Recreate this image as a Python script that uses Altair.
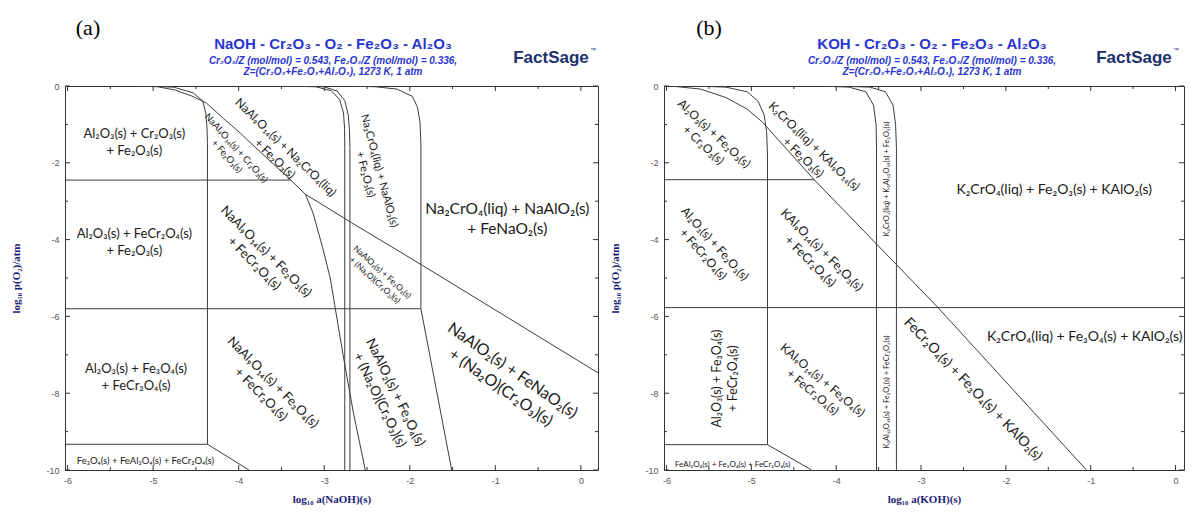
import altair as alt
import pandas as pd

# ---------------- data : panel (a) NaOH ----------------
A_V1_x = [-5.25, -5.0, -4.76, -4.53, -4.42, -4.385, -4.37, -4.365, -4.365, -3.88]
A_V1_y = [0, -0.01, -0.03, -0.18, -0.39, -0.70, -1.1, -1.5, -9.33, -10]
A_H1_x = [-6.03, -3.39]
A_H1_y = [-2.45, -2.45]
A_H2_x = [-6.03, -1.87]
A_H2_y = [-5.8, -5.8]
A_H3_x = [-6.03, -4.365]
A_H3_y = [-9.33, -9.33]
A_C2_x = [-5.2, -4.95, -4.75, -4.55, -4.38, -4.18, -3.98, -3.80, -3.60, -3.39, -3.22, -2.68, -1.86, 0.2]
A_C2_y = [0, -0.02, -0.1, -0.26, -0.44, -0.84, -1.23, -1.61, -2.02, -2.45, -2.82, -3.56, -4.66, -7.47]
A_C3_x = [-3.22, -3.13, -3.02, -2.93, -2.87, -2.78, -2.66, -2.52]
A_C3_y = [-2.82, -3.31, -4.2, -5.0, -5.8, -7.0, -8.5, -10]
A_V2_x = [-3.45, -3.1, -2.92, -2.82, -2.775, -2.762, -2.76, -2.76]
A_V2_y = [0, -0.02, -0.12, -0.35, -0.7, -1.1, -1.6, -10]
A_V3_x = [-3.3, -3.0, -2.85, -2.76, -2.72, -2.705, -2.70, -2.70]
A_V3_y = [0, -0.02, -0.13, -0.38, -0.75, -1.15, -1.6, -10]
A_V4_x = [-2.7, -2.4, -2.15, -1.97, -1.91, -1.88, -1.87, -1.87, -1.51]
A_V4_y = [0, -0.02, -0.08, -0.27, -0.55, -0.96, -1.5, -5.8, -10]

A_lab_text = [
    "Al₂O₃(s) + Cr₂O₃(s)\n+ Fe₂O₃(s)",
    "Al₂O₃(s) + FeCr₂O₄(s)\n+ Fe₂O₃(s)",
    "Al₂O₃(s) + Fe₃O₄(s)\n+ FeCr₂O₄(s)",
    "Fe₃O₄(s) + FeAl₂O₄(s) + FeCr₂O₄(s)",
    "NaAl₉O₁₄(s) + Fe₂O₃(s)\n+ FeCr₂O₄(s)",
    "NaAl₉O₁₄(s) + Fe₃O₄(s)\n+ FeCr₂O₄(s)",
    "NaAl₉O₁₄(s) + Na₂CrO₄(liq)\n+ Fe₂O₃(s)",
    "NaAl₉O₁₄(s) + Cr₂O₃(s)\n+ Fe₂O₃(s)",
    "Na₂CrO₄(liq) + NaAlO₂(s)\n+ Fe₂O₃(s)",
    "Na₂CrO₄(liq) + NaAlO₂(s)\n+ FeNaO₂(s)",
    "NaAlO₂(s) + Fe₂O₃(s)\n+ (Na₂O)(Cr₂O₃)(s)",
    "NaAlO₂(s) + Fe₃O₄(s)\n+ (Na₂O)(Cr₂O₃)(s)",
    "NaAlO₂(s) + FeNaO₂(s)\n+ (Na₂O)(Cr₂O₃)(s)",
]
A_lab_x = [-5.22, -5.22, -5.2, -5.09, -3.68, -3.6, -3.45, -4.03, -2.36, -0.86, -2.32, -2.17, -0.8]
A_lab_y = [-1.25, -3.86, -7.37, -9.77, -4.31, -7.72, -1.6, -1.62, -2.21, -3.2, -4.84, -7.98, -7.41]
A_lab_angle = [0, 0, 0, 0, 45, 45, 44, 48, 75, 0, 42, 64, 35]
A_lab_fs = [13, 13, 13, 9.5, 13, 13, 12, 9.5, 11, 15.5, 8.5, 13.5, 16]

# ---------------- data : panel (b) KOH ----------------
B_V1_x = [-5.65, -5.3, -5.05, -4.92, -4.85, -4.82, -4.81, -4.81, -4.29]
B_V1_y = [0, -0.03, -0.15, -0.4, -0.75, -1.2, -1.8, -9.34, -10]
B_H1_x = [-6.03, -4.26]
B_H1_y = [-2.44, -2.44]
B_H2_x = [-6.03, 0.1]
B_H2_y = [-5.77, -5.77]
B_H3_x = [-6.03, -4.81]
B_H3_y = [-9.34, -9.34]
B_D_x = [-5.95, -5.6, -5.3, -5.05, -4.87, -4.26, -3.29, -2.80, -1.05]
B_D_y = [0, -0.08, -0.3, -0.6, -0.94, -2.44, -4.65, -5.77, -10]
B_V2_x = [-4.2, -3.85, -3.65, -3.56, -3.53, -3.525, -3.525]
B_V2_y = [0, -0.03, -0.15, -0.5, -1.0, -1.6, -10]
B_V3_x = [-4.0, -3.6, -3.42, -3.33, -3.30, -3.29, -3.29]
B_V3_y = [0, -0.03, -0.15, -0.5, -1.0, -1.6, -10]

B_lab_text = [
    "Al₂O₃(s) + Fe₂O₃(s)\n+ Cr₂O₃(s)",
    "K₂CrO₄(liq) + KAl₉O₁₄(s)\n+ Fe₂O₃(s)",
    "K₂CrO₄(liq) + K₂Al₁₂O₁₉(s) + Fe₂O₃(s)",
    "K₂CrO₄(liq) + Fe₂O₃(s) +  KAlO₂(s)",
    "Al₂O₃(s) + Fe₂O₃(s)\n+ FeCr₂O₄(s)",
    "KAl₉O₁₄(s) + Fe₂O₃(s)\n+ FeCr₂O₄(s)",
    "Al₂O₃(s) + Fe₃O₄(s)\n+ FeCr₂O₄(s)",
    "KAl₉O₁₄(s) + Fe₃O₄(s)\n+ FeCr₂O₄(s)",
    "FeAl₂O₄(s) + Fe₃O₄(s) + FeCr₂O₄(s)",
    "K₂Al₁₂O₁₉(s) + Fe₃O₄(s) + FeCr₂O₄(s)",
    "FeCr₂O₄(s) + Fe₃O₄(s) + KAlO₂(s)",
    "K₂CrO₄(liq) + Fe₃O₄(s) + KAlO₂(s)",
]
B_lab_x = [-5.44, -4.26, -3.40, -1.43, -5.43, -4.17, -5.41, -4.16, -5.22, -3.40, -2.39, -1.07]
B_lab_y = [-1.24, -1.57, -2.42, -2.71, -4.11, -4.27, -7.62, -7.66, -9.87, -7.97, -7.9, -6.53]
B_lab_angle = [43, 44, 270, 0, 48, 45, 270, 40, 0, 270, 46, 0]
B_lab_fs = [12, 12, 7.5, 14, 12, 12.5, 12.5, 12, 8, 7.5, 14, 14]

X_MAJOR = [-6, -5, -4, -3, -2, -1, 0]
X_MINOR = [-5.5, -4.5, -3.5, -2.5, -1.5, -0.5]
Y_MAJOR = [0, -2, -4, -6, -8, -10]
Y_MINOR = [-1, -3, -5, -7, -9]
YDOM = [-10, 0]

H = 384
LABEL_FONT = "Lato"
BLUE = "#2a35d0"
NAVY = "#1c1c78"


def lines_df(pairs):
    rows = []
    for name, (xs, ys) in pairs.items():
        for i, (x, y) in enumerate(zip(xs, ys)):
            rows.append({"line": name, "i": i, "x": x, "y": y})
    return pd.DataFrame(rows)


def panel(lines, texts, xs_, ys_, angs, fss, xdom, W, xtitle, title, tag, tag_x, logo_x):
    xs = alt.Scale(domain=xdom, nice=False, zero=False)
    ys = alt.Scale(domain=YDOM, nice=False, zero=False)
    ax_x = alt.Axis(
        values=X_MAJOR, labelExpr="datum.value + ''", ticks=False, tickSize=0,
        domain=False, grid=False, labelFont="Liberation Sans", labelFontSize=9,
        labelColor="#555", labelPadding=6, title=xtitle, titleFont="Liberation Serif",
        titleFontWeight="bold", titleFontSize=11, titleColor=NAVY, titlePadding=8)
    ax_y = alt.Axis(
        values=Y_MAJOR, labelExpr="datum.value + ''", ticks=False, tickSize=0,
        domain=False, grid=False, labelFont="Liberation Sans", labelFontSize=9,
        labelColor="#555", labelPadding=6, title="log₁₀ p(O₂)/atm",
        titleFont="Liberation Serif", titleFontWeight="bold", titleFontSize=11,
        titleColor=NAVY, titlePadding=24)
    layers = []
    layers.append(
        alt.Chart(lines_df(lines)).mark_line(color="#3c3c3c", strokeWidth=1, clip=True).encode(
            x=alt.X("x:Q", scale=xs, axis=ax_x),
            y=alt.Y("y:Q", scale=ys, axis=ax_y),
            detail="line:N", order="i:Q")
    )
    # inward ticks on all four sides
    for vals, ln in ((X_MAJOR, 5), (X_MINOR, 3)):
        d = pd.DataFrame({"v": vals})
        layers.append(alt.Chart(d).mark_rule(color="#333").encode(
            x=alt.X("v:Q", scale=xs, axis=ax_x), y=alt.value(H), y2=alt.value(H - ln)))
        layers.append(alt.Chart(d).mark_rule(color="#333").encode(
            x=alt.X("v:Q", scale=xs, axis=ax_x), y=alt.value(0), y2=alt.value(ln)))
    for vals, ln in ((Y_MAJOR, 5), (Y_MINOR, 3)):
        d = pd.DataFrame({"v": vals})
        layers.append(alt.Chart(d).mark_rule(color="#333").encode(
            y=alt.Y("v:Q", scale=ys, axis=ax_y), x=alt.value(0), x2=alt.value(ln)))
        layers.append(alt.Chart(d).mark_rule(color="#333").encode(
            y=alt.Y("v:Q", scale=ys, axis=ax_y), x=alt.value(W), x2=alt.value(W - ln)))
    # region labels
    for t, x, y, a, fs in zip(texts, xs_, ys_, angs, fss):
        d = pd.DataFrame({"t": [t], "x": [x], "y": [y]})
        layers.append(alt.Chart(d).mark_text(
            font=LABEL_FONT, fontSize=fs, angle=a, lineBreak="\n", lineHeight=fs * 1.3,
            color="#1a1a1a", align="center", baseline="middle").encode(
            x=alt.X("x:Q", scale=xs, axis=ax_x), y=alt.Y("y:Q", scale=ys, axis=ax_y), text="t:N"))
    # titles above the plot
    def txt(s, px, py, **kw):
        return alt.Chart(pd.DataFrame({"t": [s]})).mark_text(**kw).encode(
            text="t:N", x=alt.value(px), y=alt.value(py))
    layers.append(txt(tag, tag_x, -58, font="Liberation Serif", fontSize=22, color="#000"))
    layers.append(txt(title, 268, -42, font="Liberation Sans", fontSize=15, fontWeight="bold", color=BLUE))
    layers.append(txt("Cr₂O₃/Z (mol/mol)  = 0.543,  Fe₂O₃/Z (mol/mol)  = 0.336,", 268, -25,
                      font="Liberation Sans", fontSize=10, fontWeight="bold", fontStyle="italic", color=BLUE))
    layers.append(txt("Z=(Cr₂O₃+Fe₂O₃+Al₂O₃), 1273 K, 1 atm", 268, -14,
                      font="Liberation Sans", fontSize=10, fontWeight="bold", fontStyle="italic", color=BLUE))
    layers.append(txt("FactSage", logo_x, -28, font="Liberation Sans", fontSize=17, fontWeight="bold",
                      color="#1c2f6e"))
    layers.append(txt("™", logo_x + 42, -36, font="Liberation Sans", fontSize=6, color="#1c2f6e"))
    return alt.layer(*layers).properties(width=W, height=H)


A_lines = {"V1": (A_V1_x, A_V1_y), "H1": (A_H1_x, A_H1_y), "H2": (A_H2_x, A_H2_y),
           "H3": (A_H3_x, A_H3_y), "C2": (A_C2_x, A_C2_y), "C3": (A_C3_x, A_C3_y),
           "V2": (A_V2_x, A_V2_y), "V3": (A_V3_x, A_V3_y), "V4": (A_V4_x, A_V4_y)}
B_lines = {"V1": (B_V1_x, B_V1_y), "H1": (B_H1_x, B_H1_y), "H2": (B_H2_x, B_H2_y),
           "H3": (B_H3_x, B_H3_y), "D": (B_D_x, B_D_y), "V2": (B_V2_x, B_V2_y),
           "V3": (B_V3_x, B_V3_y)}

pa = panel(A_lines, A_lab_text, A_lab_x, A_lab_y, A_lab_angle, A_lab_fs, [-6.03, 0.2], 533,
           "log₁₀ a(NaOH)(s)", "NaOH - Cr₂O₃ - O₂ - Fe₂O₃ - Al₂O₃", "(a)", 23, 486)
pb = panel(B_lines, B_lab_text, B_lab_x, B_lab_y, B_lab_angle, B_lab_fs, [-6.03, 0.1], 520,
           "log₁₀ a(KOH)(s)", "KOH - Cr₂O₃ - O₂ - Fe₂O₃ - Al₂O₃", "(b)", 45, 470)

chart = alt.hconcat(pa, pb, spacing=66, bounds="flush").properties(
    padding={"left": 2, "top": 8, "right": 0, "bottom": 0}
).configure_view(stroke="#333", strokeWidth=1)

chart.save("out.html", embed_options={"renderer": "svg", "actions": False})
